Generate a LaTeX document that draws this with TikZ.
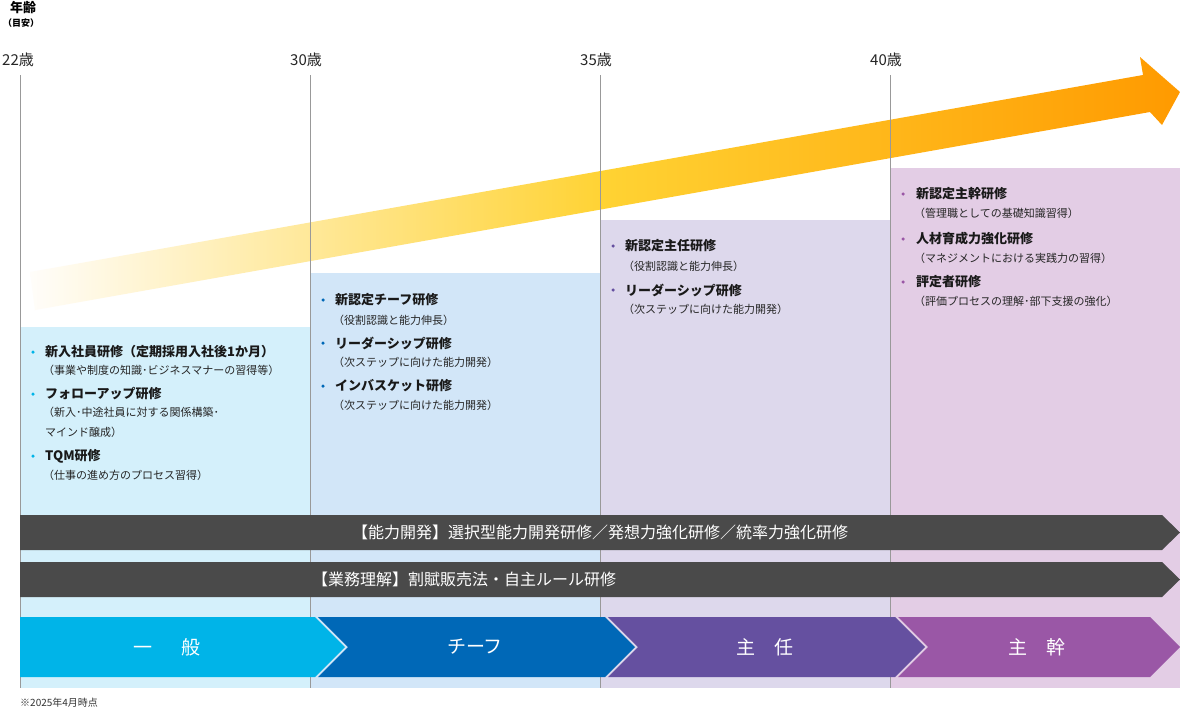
\documentclass[tikz,border=0pt]{standalone}
\usepackage{fontspec}
\setmainfont{Noto Sans CJK JP}
\newfontfamily\jpb{Noto Sans CJK JP Bold}
\usetikzlibrary{fadings}
\definecolor{c1}{HTML}{D4F0FB}
\definecolor{c2}{HTML}{D2E6F8}
\definecolor{c3}{HTML}{DDD8EC}
\definecolor{c4}{HTML}{E3CDE5}
\definecolor{b1}{HTML}{00B4E8}
\definecolor{b2}{HTML}{0068B7}
\definecolor{b3}{HTML}{6550A0}
\definecolor{b4}{HTML}{9A57A6}
\definecolor{gbar}{HTML}{4A4A4A}
\definecolor{org}{HTML}{FF9A00}
\tikzset{
 ttl/.style={anchor=west,inner sep=0pt,font=\fontsize{13}{15}\selectfont\bfseries,text=black!90},
 sub/.style={anchor=west,inner sep=0pt,font=\fontsize{11}{13}\selectfont,text=black!85},
 blt/.style={circle,fill=#1,inner sep=0pt,minimum size=3.5pt},
 age/.style={anchor=west,inner sep=0pt,font=\fontsize{15}{17}\selectfont,text=black!85},
 bartxt/.style={text=white,font=\fontsize{16}{18}\selectfont,inner sep=0pt},
 chtxt/.style={text=white,font=\fontsize{19}{21}\selectfont,inner sep=0pt},
}
\begin{document}
\begin{tikzpicture}[x=1pt,y=-1pt]
\useasboundingbox (0,0) rectangle (1180,712);
\fill[white] (0,0) rectangle (1180,712);
% column backgrounds
\fill[c1] (20,327) rectangle (310,688);
\fill[c2] (310,273) rectangle (600,688);
\fill[c3] (600,220) rectangle (890,688);
\fill[c4] (890,168) rectangle (1180,688);
% big arrow
\shade[left color=org!2, right color=org, middle color=org!55!yellow!80!white]
 (30,272) -- (1143,75) -- (1140,57) -- (1180,92) -- (1162,125) -- (1150,112) -- (35,310) -- cycle;
% vertical lines
\foreach \x in {20,310,600,890} \draw[black!40,line width=0.7pt] (\x,75) -- (\x,688);
% ages
\node[anchor=west,inner sep=0pt,font=\fontsize{13}{15}\selectfont\bfseries] (nenrei) at (10,8) {年齢};
\node[anchor=west,inner sep=0pt,font=\fontsize{9}{11}\selectfont\bfseries] (meyasu) at (3,23) {（目安）};
\node[age] (a22) at (2,60) {22歳};
\node[age] (a30) at (290,60) {30歳};
\node[age] (a35) at (580,60) {35歳};
\node[age] (a40) at (870,60) {40歳};
% column 1
\node[blt=b1] (p11) at (33,352) {};
\node[ttl] (t11) at (45,352) {新入社員研修（定期採用入社後1か月）};
\node[sub] (s11) at (43,370) {（事業や制度の知識･ビジネスマナーの習得等）};
\node[blt=b1] (p12) at (33,394) {};
\node[ttl] (t12) at (45,394) {フォローアップ研修};
\node[sub] (s12) at (43,412) {（新入･中途社員に対する関係構築･};
\node[sub] (s12b) at (45,432) {マインド醸成）};
\node[blt=b1] (p13) at (33,456) {};
\node[ttl] (t13) at (45,456) {TQM研修};
\node[sub] (s13) at (43,475) {（仕事の進め方のプロセス習得）};
% column 2
\node[blt=b2] (p21) at (323,300) {};
\node[ttl] (t21) at (335,300) {新認定チーフ研修};
\node[sub] (s21) at (333,320) {（役割認識と能力伸長）};
\node[blt=b2] (p22) at (323,343) {};
\node[ttl] (t22) at (335,343) {リーダーシップ研修};
\node[sub] (s22) at (333,362) {（次ステップに向けた能力開発）};
\node[blt=b2] (p23) at (323,386) {};
\node[ttl] (t23) at (335,386) {インバスケット研修};
\node[sub] (s23) at (333,405) {（次ステップに向けた能力開発）};
% column 3
\node[blt=b3] (p31) at (613,246) {};
\node[ttl] (t31) at (625,246) {新認定主任研修};
\node[sub] (s31) at (623,266) {（役割認識と能力伸長）};
\node[blt=b3] (p32) at (613,290) {};
\node[ttl] (t32) at (625,290) {リーダーシップ研修};
\node[sub] (s32) at (623,309) {（次ステップに向けた能力開発）};
% column 4
\node[blt=b4] (p41) at (903,194) {};
\node[ttl] (t41) at (916,194) {新認定主幹研修};
\node[sub] (s41) at (914,213) {（管理職としての基礎知識習得）};
\node[blt=b4] (p42) at (903,239) {};
\node[ttl] (t42) at (916,239) {人材育成力強化研修};
\node[sub] (s42) at (914,258) {（マネジメントにおける実践力の習得）};
\node[blt=b4] (p43) at (903,282) {};
\node[ttl] (t43) at (916,282) {評定者研修};
\node[sub] (s43) at (914,301) {（評価プロセスの理解･部下支援の強化）};
% gray bars
\fill[gbar] (20,515) -- (1162,515) -- (1180,532.5) -- (1162,550) -- (20,550) -- cycle;
\node[bartxt] (bar1) at (600,532.5) {【能力開発】選択型能力開発研修／発想力強化研修／統率力強化研修};
\fill[gbar] (20,562) -- (1162,562) -- (1180,579.5) -- (1162,597) -- (20,597) -- cycle;
\node[bartxt,anchor=west] (bar2) at (312,579.5) {【業務理解】割賦販売法・自主ルール研修};
% chevrons
\fill[b1] (20,617) -- (315,617) -- (345,647) -- (315,677) -- (20,677) -- cycle;
\fill[b2] (318,617) -- (605,617) -- (635,647) -- (605,677) -- (318,677) -- (348,647) -- cycle;
\fill[b3] (608,617) -- (895,617) -- (925,647) -- (895,677) -- (608,677) -- (638,647) -- cycle;
\fill[b4] (898,617) -- (1150,617) -- (1180,647) -- (1150,677) -- (898,677) -- (928,647) -- cycle;
\node[chtxt] (ch1) at (167,647) {一\hspace{1.5em}般};
\node[chtxt] (ch2) at (475,647) {チーフ};
\node[chtxt] (ch3) at (765,647) {主\hspace{1em}任};
\node[chtxt] (ch4) at (1037,647) {主\hspace{1em}幹};
\node[anchor=west,inner sep=0pt,font=\fontsize{10}{12}\selectfont,text=black!80] (note) at (20,703) {※2025年4月時点};
\end{tikzpicture}
\end{document}
